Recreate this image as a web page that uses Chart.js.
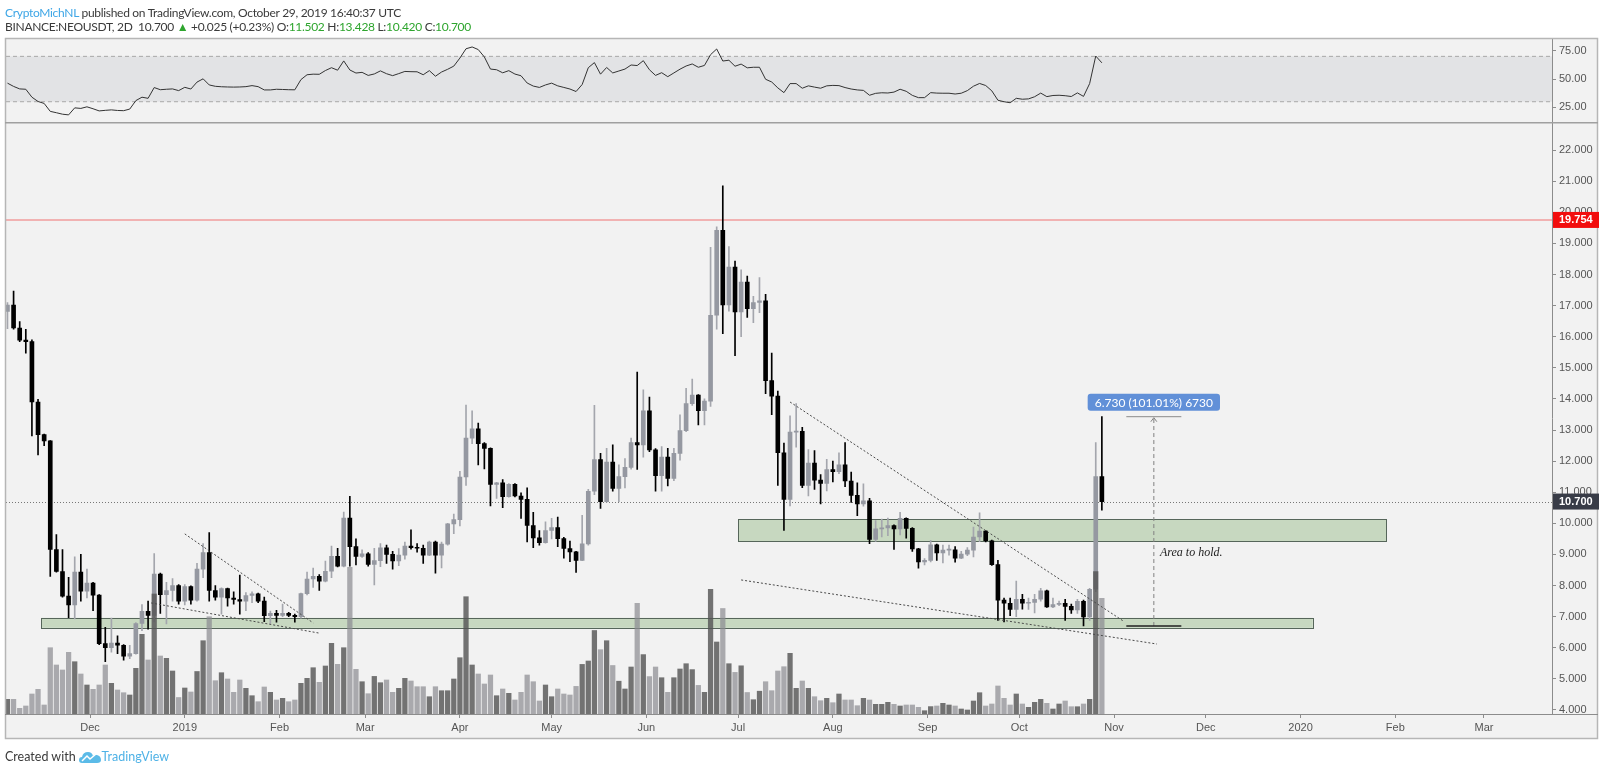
<!DOCTYPE html>
<html>
<head>
<meta charset="utf-8">
<script src="https://cdn.jsdelivr.net/npm/chart.js@4.4.0/dist/chart.umd.min.js"></script>
<style>
  html, body { margin: 0; padding: 0; background: #fff; }
  #wrap { position: relative; width: 1600px; height: 771px; overflow: hidden; font-family: Lato, "Open Sans", sans-serif; }
  #chart { position: absolute; left: 0; top: 0; }
  .line { position: absolute; left: 5px; font-size: 12px; letter-spacing: -0.3px; color: #3a3a3a; white-space: nowrap; }
  .blue { color: #3ea6e6; }
  .green { color: #2ea52e; }
  #foot { position: absolute; left: 5px; top: 749px; font-size: 12.5px; color: #3a3a3a; white-space: nowrap; }
  #foot svg { vertical-align: -4px; margin: 0 1px 0 3px; }
</style>
</head>
<body>
<div id="wrap">
  <canvas id="chart" width="1600" height="771"></canvas>
  <div class="line" style="top:5px"><span class="blue">CryptoMichNL</span> published on TradingView.com, October 29, 2019 16:40:37 UTC</div>
  <div class="line" style="top:19px">BINANCE:NEOUSDT, 2D&nbsp; 10.700 <span class="green">&#9650;</span> +0.025 (+0.23%) O:<span class="green">11.502</span> H:<span class="green">13.428</span> L:<span class="green">10.420</span> C:<span class="green">10.700</span></div>
  <div id="foot">Created with<svg width="22" height="15" viewBox="0 0 22 15"><path d="M3 13 Q0 13 0 10 Q0 7 3 7 Q4 2 9 2 Q13 2 14 6 Q15 4 18 5 Q22 6 22 10 Q22 13 18 13 Z" fill="#5bbbe8"/><path d="M3 11 L8 6 L11 9 L17 4" stroke="#fff" stroke-width="1.5" fill="none"/></svg><span class="blue" style="color:#4fb2e6">TradingView</span></div>
</div>
<script>
// 2D candles NEO/USDT, Nov 2018 -> Oct 2019
const opens = [
  16.81,17.02,16.28,15.89,15.84,13.9,12.85,12.65,9.16,8.45,
  7.66,7.38,8.43,7.82,8.08,7.69,6.13,6.0,6.15,6.08,
  5.73,5.81,6.78,7.17,7.04,8.37,7.71,7.84,8.0,7.5,
  7.97,7.53,8.53,9.06,7.84,7.63,7.9,7.6,7.55,7.5,
  7.68,7.73,7.5,7.03,7.11,7.04,7.11,7.04,7.0,7.74,
  8.21,8.3,8.14,8.46,8.94,8.62,10.17,9.25,8.94,9.02,
  8.68,8.8,9.21,9.0,8.79,8.98,9.27,9.22,9.2,8.98,
  9.4,8.98,9.33,9.98,10.12,11.49,12.74,13.04,12.56,12.41,
  11.25,11.3,10.86,11.25,10.88,10.77,9.93,9.53,9.38,9.77,
  9.86,9.51,9.19,9.08,8.81,9.34,11.03,12.05,10.7,11.97,
  11.12,11.5,11.8,12.6,12.52,13.62,12.36,11.53,12.13,11.44,
  12.25,12.98,13.85,14.12,13.62,13.93,16.69,19.42,17.02,18.24,
  16.8,17.76,16.9,17.1,17.15,14.59,14.09,12.27,10.77,12.93,
  12.96,11.22,11.94,11.39,11.28,11.73,11.66,11.88,11.36,10.9,
  10.62,10.72,9.48,9.82,9.85,9.93,9.82,10.16,9.84,9.18,
  8.76,8.81,9.31,9.05,9.14,9.15,8.88,9.01,9.14,9.56,
  9.75,9.44,8.67,7.53,7.43,7.23,7.56,7.43,7.46,7.56,
  7.83,7.31,7.39,7.43,7.33,7.22,7.49,6.99,7.88,11.502
];
const highs = [
  17.1,17.47,16.49,16.24,15.9,13.99,12.87,12.66,9.64,9.16,
  8.26,8.92,9.0,8.53,8.1,7.71,6.66,6.95,6.38,6.1,
  6.08,6.81,7.39,7.5,9.03,8.4,8.1,8.22,8.03,8.03,
  7.99,8.71,9.35,9.7,8.0,7.93,7.92,7.8,8.34,7.77,
  7.8,7.76,7.63,7.18,7.2,7.4,7.14,7.08,7.76,8.43,
  8.56,8.35,8.79,9.27,9.2,10.36,10.87,9.5,9.15,9.06,
  9.2,9.35,9.3,9.1,9.19,9.4,9.79,9.35,9.3,9.43,
  9.43,9.4,10.0,10.3,11.67,13.8,13.62,13.22,12.6,12.43,
  11.32,11.41,11.28,11.28,10.98,11.14,10.35,9.77,10.05,10.16,
  10.2,9.55,9.43,9.1,10.26,11.09,13.79,12.25,12.41,12.52,
  11.88,12.08,12.74,14.86,14.29,14.06,12.4,12.47,12.41,12.41,
  13.49,14.34,14.64,14.14,14.0,18.87,19.53,20.85,18.9,18.43,
  18.15,17.95,17.3,17.9,17.36,15.47,14.25,12.58,13.46,13.85,
  13.09,12.37,12.34,11.57,12.06,12.0,12.27,12.6,11.65,11.3,
  11.27,10.8,10.09,10.14,10.17,9.95,10.35,10.18,9.86,9.2,
  8.87,9.45,9.33,9.3,9.3,9.25,9.1,9.22,9.88,10.34,
  9.77,9.46,8.81,7.6,7.6,8.14,7.72,7.6,7.72,7.91,
  7.85,7.6,7.5,7.56,7.4,7.56,7.53,7.91,12.6,13.428
];
const lows = [
  16.26,16.24,15.84,15.47,12.81,12.2,12.5,8.29,8.43,7.63,
  6.97,6.93,7.5,7.6,7.19,6.1,5.55,5.86,5.81,5.6,
  5.65,5.79,6.55,6.6,6.83,7.1,6.77,7.5,7.4,7.38,
  7.4,7.5,8.25,7.5,7.53,7.08,7.34,7.4,7.08,7.19,
  7.45,7.45,6.84,6.78,6.82,7.0,7.0,6.82,6.95,7.7,
  7.94,7.84,8.12,8.25,8.6,8.6,8.62,8.66,8.9,8.62,
  8.02,8.61,8.71,8.53,8.64,8.85,9.17,9.07,8.71,8.96,
  8.4,8.57,9.3,9.67,9.92,11.22,12.56,11.88,11.75,10.56,
  10.8,10.5,10.84,10.85,10.16,9.4,9.22,9.3,9.36,9.5,
  9.25,8.88,8.77,8.42,8.8,9.3,10.92,10.48,10.68,11.03,
  10.7,11.14,11.74,11.73,12.13,12.3,11.03,11.03,11.2,11.37,
  12.03,12.95,13.79,13.16,13.16,13.76,16.24,16.1,16.82,15.39,
  16.0,16.62,16.45,16.77,14.17,13.49,11.22,9.77,10.56,12.45,
  11.15,10.88,11.09,10.62,11.04,11.33,11.6,11.18,10.67,10.25,
  10.55,9.35,9.42,9.56,9.6,9.16,9.63,9.52,9.1,8.56,
  8.66,8.76,8.81,8.73,8.98,8.75,8.86,8.96,8.92,9.41,
  9.4,8.65,6.88,6.83,7.03,7.0,7.24,7.23,7.12,7.5,
  7.3,7.29,7.35,6.88,7.1,7.1,6.698,6.88,7.8,10.42
];
const closes = [
  17.02,16.28,15.89,15.84,13.9,12.85,12.65,9.16,8.45,7.66,
  7.38,8.43,7.82,8.08,7.69,6.13,6.0,6.15,6.08,5.73,
  5.81,6.78,7.17,7.04,8.37,7.71,7.84,8.0,7.5,7.97,
  7.53,8.53,9.06,7.84,7.63,7.9,7.6,7.55,7.5,7.68,
  7.73,7.5,7.03,7.11,7.04,7.11,7.04,7.0,7.74,8.21,
  8.3,8.14,8.46,8.94,8.62,10.17,9.25,8.94,9.02,8.68,
  8.8,9.21,9.0,8.79,8.98,9.27,9.22,9.2,8.98,9.4,
  8.98,9.33,9.98,10.12,11.49,12.74,13.04,12.56,12.41,11.25,
  11.3,10.86,11.25,10.88,10.77,9.93,9.53,9.38,9.77,9.86,
  9.51,9.19,9.08,8.81,9.34,11.03,12.05,10.7,11.97,11.12,
  11.5,11.8,12.6,12.52,13.62,12.36,11.53,12.13,11.44,12.25,
  12.98,13.85,14.12,13.62,13.93,16.69,19.42,17.02,18.24,16.8,
  17.76,16.9,17.1,17.15,14.59,14.09,12.27,10.77,12.93,12.96,
  11.22,11.94,11.39,11.28,11.73,11.66,11.88,11.36,10.9,10.62,
  10.72,9.48,9.82,9.85,9.93,9.82,10.16,9.84,9.18,8.76,
  8.81,9.31,9.05,9.14,9.15,8.88,9.01,9.14,9.56,9.75,
  9.44,8.67,7.53,7.43,7.23,7.56,7.43,7.46,7.56,7.83,
  7.31,7.39,7.43,7.33,7.22,7.49,6.99,7.88,11.5,10.7
];
// volume, relative units (bar heights)
const volumes = [
  14.7,14.7,5.7,8,20,24.7,9,66.3,49,44,
  61.7,52.3,40,29,24.7,29,49,30.7,24,21.3,
  19,45.7,79.7,54,120,58,55.7,43,16.5,26,
  22,42.5,73.3,97.3,33.3,41.3,35,21.7,34,25.7,
  18.3,12.3,27,21.7,14,15.7,12.3,14,30.7,35.7,
  46.3,31.7,48,70.7,49.7,66.3,146.7,44.7,32.3,20.3,
  37.6,31.3,34,21.7,25.7,35.7,33,27.3,27.3,17.3,
  27.3,23.3,23.3,35,56.3,117.3,49,40,30,39,
  18.3,25,20.7,14,21.7,39,32.3,13,29,17.3,
  25,20,19,27.6,49.6,53,83.5,64.3,73.3,48.5,
  32.8,25,47,110.7,59.4,37.4,47,36.3,21.7,36.3,
  45,50.3,44.4,28.6,21.7,124.7,72,105.5,50.3,41.6,
  48.2,21.5,14.3,22.8,32.3,23.3,43,47.3,60.7,25.7,
  33,25.7,17.3,13.3,15.7,11.3,20,14,14,8.3,
  15.7,14,9.7,9.7,11.7,9.7,8,9,9,6.7,
  3.3,7.4,8,10.7,9,8,5,4,13,21.3,
  8,10,28,15.7,9,20,10,6.7,11.7,14.7,
  10.7,5,10,13,7.3,7.3,10,14.7,142.3,115.7
];
const rsi = [
  46.4,43.5,41.3,41,34,30.2,28.5,21.5,20.3,19,
  18.4,24.6,24.1,25.5,23.8,21.9,22.4,22.8,22.3,22.1,
  23.5,31,34,33,42.5,40.6,41,41.3,39.8,42.7,
  41.2,47.3,50.2,44.8,43.6,43.2,43,42.9,43,43.3,
  44.2,43.3,40.4,40.4,41,40.8,40.6,40.5,49.5,53.8,
  54.3,54.2,57.5,60,57.8,66,58,55.3,55.9,53.2,
  54.5,57.2,54.7,53,54.8,56.7,56.5,56.4,53.8,57.4,
  52.5,56.2,58.6,61.4,68.5,76.7,78.3,76,69.5,58.8,
  58.2,55.5,57.4,54.4,52.9,46.5,43.8,42.6,44.8,46.4,
  44,42.6,41.2,39,45.2,60,64.5,54.3,60.2,55.4,
  57.1,58.8,62.4,61.9,66.2,58.2,53.2,55.6,52.1,55.4,
  58.7,61.5,63.3,60.4,62,71.5,76.5,65.9,66.6,61.3,
  63.2,59.9,60.4,60.4,49.8,47.4,42.2,38,46,46,
  41.9,44,42.9,41.9,44,44.4,44.2,42.5,41.2,40.4,
  40,35.7,37.4,37.9,37.7,38.5,41,39.2,35.6,33.6,
  33.6,38,37.6,37.5,37.5,36.8,37.5,39.8,43.7,46.1,
  44.3,39.6,31.3,30,29.1,33,32.2,32.5,34.4,37.6,
  34.5,35.5,35.7,35.3,34.6,37.8,34.7,46,70.3,64.3
];

const monthTicks = ['2018-12-01','2019-01-01','2019-02-01','2019-03-01','2019-04-01','2019-05-01','2019-06-01',
  '2019-07-01','2019-08-01','2019-09-01','2019-10-01','2019-11-01','2019-12-01','2020-01-01','2020-02-01','2020-03-01'];
const monthLabels = ['Dec','2019','Feb','Mar','Apr','May','Jun','Jul','Aug','Sep','Oct','Nov','Dec','2020','Feb','Mar'];
const rsiTicks = [25, 50, 75];

// drawings on the chart (dates / prices)
const zoneFrom = ['2018-11-15', '2019-07-01'];
const zoneTo = ['2020-01-05', '2020-01-29'];
const zoneLow = [6.64, 9.41];
const zoneHigh = [6.96, 10.13];

const trendFrom = ['2019-01-01', '2018-12-21', '2019-07-18', '2019-07-02'];
const trendFromPrice = [9.66, 7.44, 13.90, 8.18];
const trendTo = ['2019-02-12', '2019-02-14', '2019-11-04', '2019-11-15'];
const trendToPrice = [6.80, 6.47, 6.86, 6.12];

const resistance = 19.754;
const lastPrice = 10.700;
const rangeLow = 6.698, rangeHigh = 13.428;
const rangeFrom = '2019-11-05', rangeTo = '2019-11-23', rangeMid = '2019-11-14';
const rangeText = '6.730 (101.01%) 6730';
const noteText = 'Area to hold.', noteDate = '2019-11-16', notePrice = 9.05;

const DAY = 86400000;
const firstCandle = Date.UTC(2018, 10, 4);
const dates = opens.map((_, i) => firstCandle + i * 2 * DAY);
const t = s => Date.parse(s);

const isUp = opens.map((o, i) => closes[i] >= o);
const bodyColors = isUp.map(u => u ? '#9598a1' : '#000000');
const wickColors = isUp.map(u => u ? '#a4a6ad' : '#000000');
const volColors = isUp.map(u => u ? 'rgba(85,85,85,0.82)' : 'rgba(140,140,145,0.72)');

const labelOf = {};
monthTicks.forEach((d, i) => { labelOf[t(d)] = monthLabels[i]; });

const axisFont = { family: '"Liberation Sans", Arial, sans-serif', size: 11 };

const drawings = {
  id: 'drawings',
  beforeDraw(chart) {
    const c = chart.ctx;
    c.save();
    c.fillStyle = '#f2f2f2';
    c.fillRect(5, 38, 1593, 701);
    c.restore();
  },
  beforeDatasetsDraw(chart) {
    const { ctx: c, scales: { x, y, yRsi }, chartArea: a } = chart;
    c.save();
    // RSI band
    const r70 = yRsi.getPixelForValue(70), r30 = yRsi.getPixelForValue(30);
    c.fillStyle = '#e2e3e5';
    c.fillRect(a.left, r70, a.right - a.left, r30 - r70);
    c.strokeStyle = '#a8a8a8';
    c.lineWidth = 1;
    c.setLineDash([4, 3]);
    [r70, r30].forEach(py => { c.beginPath(); c.moveTo(a.left, py); c.lineTo(a.right, py); c.stroke(); });
    c.setLineDash([]);
    // zones
    zoneFrom.forEach((f, i) => {
      const x1 = x.getPixelForValue(t(f)), x2 = x.getPixelForValue(t(zoneTo[i]));
      const y1 = y.getPixelForValue(zoneHigh[i]), y2 = y.getPixelForValue(zoneLow[i]);
      c.fillStyle = '#c7d8c0';
      c.fillRect(x1, y1, x2 - x1, y2 - y1);
      c.strokeStyle = '#56665a';
      c.lineWidth = 1;
      c.strokeRect(Math.round(x1) + 0.5, Math.round(y1) + 0.5, Math.round(x2 - x1), Math.round(y2 - y1));
    });
    // resistance line
    const ry = y.getPixelForValue(resistance);
    c.strokeStyle = 'rgba(240,110,110,0.65)';
    c.lineWidth = 1.5;
    c.beginPath(); c.moveTo(a.left, ry); c.lineTo(a.right, ry); c.stroke();
    // last price line
    const ly = Math.round(y.getPixelForValue(lastPrice)) + 0.5;
    c.strokeStyle = '#777';
    c.lineWidth = 1;
    c.setLineDash([1, 2]);
    c.beginPath(); c.moveTo(a.left, ly); c.lineTo(a.right, ly); c.stroke();
    c.restore();
  },
  afterDatasetsDraw(chart) {
    const { ctx: c, scales: { x, y } } = chart;
    c.save();
    // trend lines
    c.strokeStyle = '#4a4a4a';
    c.lineWidth = 1;
    c.setLineDash([2, 2]);
    trendFrom.forEach((f, i) => {
      c.beginPath();
      c.moveTo(x.getPixelForValue(t(f)), y.getPixelForValue(trendFromPrice[i]));
      c.lineTo(x.getPixelForValue(t(trendTo[i])), y.getPixelForValue(trendToPrice[i]));
      c.stroke();
    });
    // price range tool
    const xa = x.getPixelForValue(t(rangeFrom)), xb = x.getPixelForValue(t(rangeTo)), xm = x.getPixelForValue(t(rangeMid));
    const yl = y.getPixelForValue(rangeLow), yh = y.getPixelForValue(rangeHigh);
    c.setLineDash([4, 3]);
    c.strokeStyle = '#808080';
    c.beginPath(); c.moveTo(xm, yl); c.lineTo(xm, yh + 2); c.stroke();
    c.setLineDash([]);
    c.beginPath(); c.moveTo(xm - 3, yh + 5); c.lineTo(xm, yh + 1); c.lineTo(xm + 3, yh + 5); c.stroke();
    c.strokeStyle = '#8a8a8a';
    c.beginPath(); c.moveTo(xa, yh); c.lineTo(xb, yh); c.stroke();
    c.strokeStyle = '#222';
    c.lineWidth = 1.5;
    c.beginPath(); c.moveTo(xa, yl); c.lineTo(xb, yl); c.stroke();
    c.font = '12px Lato, "Open Sans", sans-serif';
    const tw = c.measureText(rangeText).width;
    const bw = tw + 14, bh = 17, bx = xm - bw / 2, by = yh - 6 - bh;
    c.fillStyle = '#6190d8';
    c.beginPath();
    c.roundRect ? c.roundRect(bx, by, bw, bh, 3) : c.rect(bx, by, bw, bh);
    c.fill();
    c.fillStyle = '#fff';
    c.textAlign = 'center';
    c.textBaseline = 'middle';
    c.fillText(rangeText, xm, by + bh / 2 + 0.5);
    // note
    c.fillStyle = '#222';
    c.textAlign = 'left';
    c.font = 'italic 12px "Liberation Serif", "DejaVu Serif", serif';
    c.fillText(noteText, x.getPixelForValue(t(noteDate)), y.getPixelForValue(notePrice));
    c.restore();
  },
  afterDraw(chart) {
    const { ctx: c, scales: { y, yRsi }, chartArea: a } = chart;
    c.save();
    // frame
    c.strokeStyle = '#b6b6b6';
    c.lineWidth = 1.5;
    c.strokeRect(5.5, 38.5, 1592, 700);
    // pane separator + time axis line
    const sep = yRsi.bottom;
    c.strokeStyle = '#a0a0a0';
    c.beginPath(); c.moveTo(5, sep); c.lineTo(1598, sep); c.stroke();
    c.strokeStyle = '#8c8c8c';
    c.lineWidth = 1;
    c.beginPath(); c.moveTo(5, a.bottom + 0.5); c.lineTo(1598, a.bottom + 0.5); c.stroke();
    // price tags
    const tag = (v, bg) => {
      const py = y.getPixelForValue(v);
      c.fillStyle = bg;
      c.fillRect(a.right + 1, py - 8, 46, 16);
      c.fillStyle = '#fff';
      c.font = 'bold 11px "Liberation Sans", Arial, sans-serif';
      c.textAlign = 'left';
      c.textBaseline = 'middle';
      c.fillText(v.toFixed(3), a.right + 7, py + 0.5);
    };
    tag(resistance, '#f20d0d');
    tag(lastPrice, '#383c47');
    c.restore();
  }
};

const ctx = document.getElementById('chart').getContext('2d');
new Chart(ctx, {
  type: 'bar',
  data: {
    datasets: [
      {
        type: 'bar', label: 'Volume', yAxisID: 'yVol', order: 1, grouped: false,
        data: dates.map((d, i) => ({ x: d, y: volumes[i] })),
        backgroundColor: volColors, barThickness: 4.6
      },
      {
        type: 'bar', label: 'Bodies', yAxisID: 'y', order: 2, grouped: false,
        data: dates.map((d, i) => ({ x: d, y: [Math.min(opens[i], closes[i]), Math.max(opens[i], closes[i])] })),
        backgroundColor: bodyColors, barThickness: 4, minBarLength: 1
      },
      {
        type: 'bar', label: 'Wicks', yAxisID: 'y', order: 3, grouped: false,
        data: dates.map((d, i) => ({ x: d, y: [lows[i], highs[i]] })),
        backgroundColor: wickColors, barThickness: 1, minBarLength: 1
      },
      {
        type: 'line', label: 'RSI', yAxisID: 'yRsi', order: 0,
        data: dates.map((d, i) => ({ x: d, y: rsi[i] })),
        borderColor: '#333', borderWidth: 1, pointRadius: 0, tension: 0
      }
    ]
  },
  options: {
    responsive: false,
    animation: false,
    layout: { padding: { top: 38, left: 6, right: 0, bottom: 32 } },
    plugins: { legend: { display: false }, tooltip: { enabled: false } },
    scales: {
      x: {
        type: 'linear', offset: false,
        min: t('2018-12-01') - 27.48 * DAY, max: t('2018-12-01') + 478.25 * DAY,
        grid: { drawOnChartArea: false, drawTicks: true, tickLength: 4, color: '#8c8c8c', offset: false },
        border: { display: true, color: '#8c8c8c' },
        ticks: { autoSkip: false, maxRotation: 0, color: '#555', font: axisFont, padding: 3,
          callback: v => labelOf[v] || '' },
        afterBuildTicks: s => { s.ticks = monthTicks.map(d => ({ value: t(d) })); },
        afterFit: s => { s.height = 25; }
      },
      yRsi: {
        type: 'linear', position: 'right', stack: 'pane', stackWeight: 84.7,
        min: 11.5, max: 86.2, beginAtZero: false,
        grid: { drawOnChartArea: false, drawTicks: true, tickLength: 4, color: '#8c8c8c' },
        border: { display: true, color: '#8c8c8c' },
        ticks: { autoSkip: false, color: '#555', font: axisFont, padding: 3,
          callback: v => v.toFixed(2) },
        afterBuildTicks: s => { s.ticks = rsiTicks.map(v => ({ value: v })); },
        afterFit: s => { s.width = 48; }
      },
      y: {
        type: 'linear', position: 'right', stack: 'pane', stackWeight: 591.3,
        min: 3.87, max: 22.88, beginAtZero: false,
        grid: { drawOnChartArea: false, drawTicks: true, tickLength: 4, color: '#8c8c8c' },
        border: { display: true, color: '#8c8c8c' },
        ticks: { stepSize: 1, includeBounds: false, autoSkip: false, color: '#555', font: axisFont, padding: 3,
          callback: v => v.toFixed(3) },
        afterFit: s => { s.width = 48; }
      },
      yVol: {
        type: 'linear', position: 'left', display: false, min: 0, max: 676, beginAtZero: true
      }
    }
  },
  plugins: [drawings]
});
</script>
</body>
</html>
